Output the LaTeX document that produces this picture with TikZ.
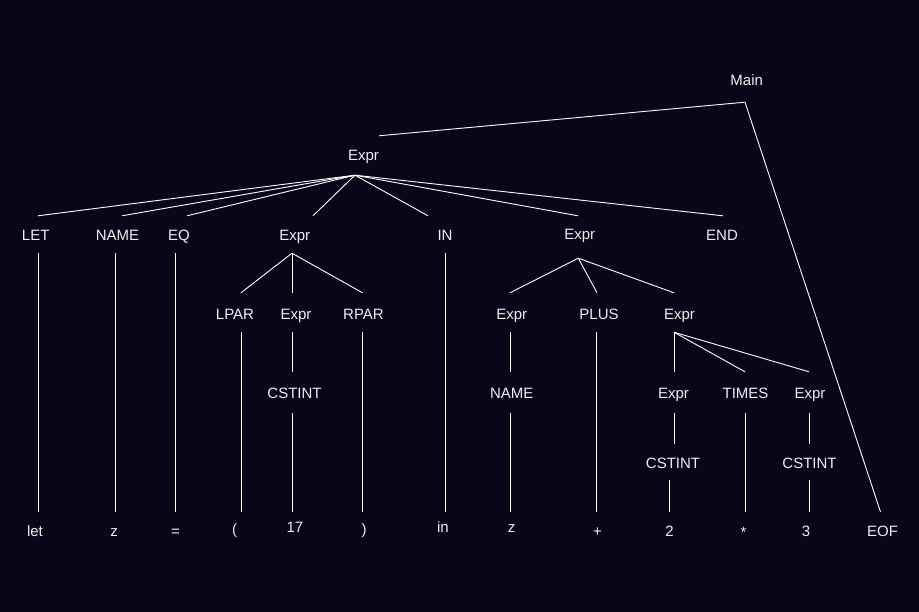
\documentclass[tikz,border=0pt]{standalone}
\usepackage{fontspec}
\setmainfont{Liberation Sans}
\definecolor{bg}{RGB}{7,7,25}
\definecolor{fg}{RGB}{238,238,238}
\tikzset{
  lab/.style={anchor=base, inner sep=0pt, text height=11pt, text depth=3pt,
    text=fg, font=\fontsize{15pt}{18pt}\selectfont},
  conn/.style={draw=white, line width=0.9pt}
}
\newcommand\edge[6]{\draw[conn] ([shift={(#2pt,-#3pt)}]#1.south) -- ([shift={(#5pt,#6pt)}]#4.north);}
\begin{document}
\begin{tikzpicture}[x=1pt,y=-1pt]
\useasboundingbox[fill=bg] (0,0) rectangle (919,612);
% level 0
\node[lab] (Main) at (746.7,86) {Main};
\node[lab] (E0) at (363.5,161) {Expr};
% row 1
\node[lab] (LET) at (35.7,241) {LET};
\node[lab] (NAME1) at (117.5,241) {NAME};
\node[lab] (EQ) at (179,241) {EQ};
\node[lab] (E1a) at (294.7,241) {Expr};
\node[lab] (IN) at (445,241) {IN};
\node[lab] (E1b) at (579.7,240) {Expr};
\node[lab] (END) at (722,241) {END};
% row 2
\node[lab] (LPAR) at (235,320) {LPAR};
\node[lab] (E2a) at (296,320) {Expr};
\node[lab] (RPAR) at (363.5,320) {RPAR};
\node[lab] (E2b) at (511.7,320) {Expr};
\node[lab] (PLUS) at (599,320) {PLUS};
\node[lab] (E2c) at (679.5,320) {Expr};
% row 3
\node[lab] (C1) at (294.5,399) {CSTINT};
\node[lab] (NAME2) at (511.7,399) {NAME};
\node[lab] (E3a) at (673.5,399) {Expr};
\node[lab] (TIMES) at (745.5,399) {TIMES};
\node[lab] (E3b) at (810,399) {Expr};
% row 4
\node[lab] (C2) at (673,468) {CSTINT};
\node[lab] (C3) at (809.5,468) {CSTINT};
% leaves
\node[lab] (Llet) at (35,536) {let};
\node[lab] (Lz1) at (114,536) {z};
\node[lab] (Leq) at (175.5,536) {=};
\node[lab] (Llp) at (234.5,534) {(};
\node[lab] (L17) at (295,532.5) {17};
\node[lab] (Lrp) at (364,534) {)};
\node[lab] (Lin) at (443,532.5) {in};
\node[lab] (Lz2) at (511.5,532.5) {z};
\node[lab] (Lplus) at (597.5,536) {+};
\node[lab] (L2) at (669.5,536) {2};
\node[lab] (Ltimes) at (743.5,537.5) {*};
\node[lab] (L3) at (806,536) {3};
\node[lab] (Leof) at (882.5,536) {EOF};
% connectors
\edge{Main}{-1.7}{13}{E0}{15.5}{14}
\edge{Main}{-1.7}{13}{Leof}{-2}{13}
\edge{E0}{-8.5}{11}{LET}{2.3}{14}
\edge{E0}{-8.5}{11}{NAME1}{4.5}{14}
\edge{E0}{-8.5}{11}{EQ}{8}{14}
\edge{E0}{-8.5}{11}{E1a}{18.3}{14}
\edge{E0}{-8.5}{11}{IN}{-17}{14}
\edge{E0}{-8.5}{11}{E1b}{-1.7}{13}
\edge{E0}{-8.5}{11}{END}{1}{14}
\edge{LET}{2.3}{9}{Llet}{3}{13}
\edge{NAME1}{-2}{9}{Lz1}{1.5}{13}
\edge{EQ}{-3.5}{9}{Leq}{0}{13}
\edge{E1a}{-2.7}{9}{LPAR}{6}{16}
\edge{E1a}{-2.7}{9}{E2a}{-4}{16}
\edge{E1a}{-2.7}{9}{RPAR}{-1}{16}
\edge{IN}{0}{9}{Lin}{2}{9.5}
\edge{E1b}{-1.4}{15}{E2b}{-1.7}{16}
\edge{E1b}{-1.4}{15}{PLUS}{-2}{16}
\edge{E1b}{-1.4}{15}{E2c}{-5.5}{16}
\edge{LPAR}{6}{9}{Llp}{6.5}{11}
\edge{E2a}{-4}{9}{C1}{-2.5}{16}
\edge{C1}{-2.5}{11}{L17}{-3}{9.5}
\edge{RPAR}{-1}{9}{Lrp}{-1.5}{11}
\edge{E2b}{-1.7}{9}{NAME2}{-1.7}{16}
\edge{NAME2}{-1.7}{11}{Lz2}{-1.5}{9.5}
\edge{PLUS}{-3}{9}{Lplus}{-1.5}{13}
\edge{E2c}{-5.5}{9}{E3a}{0.5}{16}
\edge{E2c}{-5.5}{9}{TIMES}{-0.5}{16}
\edge{E2c}{-5.5}{9}{E3b}{-1}{16}
\edge{E3a}{0.5}{11}{C2}{1}{13}
\edge{C2}{-4}{9}{L2}{-0.5}{13}
\edge{TIMES}{-0.5}{11}{Ltimes}{1.5}{14.5}
\edge{E3b}{-1}{11}{C3}{-0.5}{13}
\edge{C3}{-0.5}{9}{L3}{3}{13}
\end{tikzpicture}
\end{document}
